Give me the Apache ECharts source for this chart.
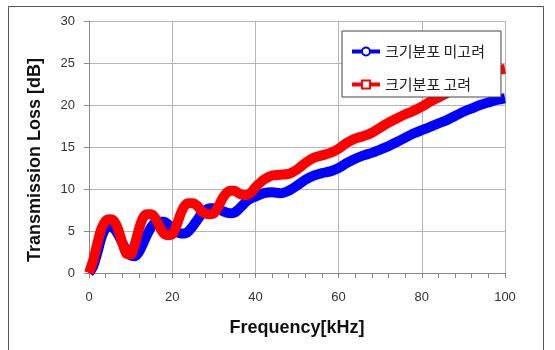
<!DOCTYPE html>
<html><head><meta charset="utf-8">
<script src="https://cdn.jsdelivr.net/npm/echarts@6/dist/echarts.min.js"></script>
<style>html,body{margin:0;padding:0;background:#fff}#c{width:555px;height:350px}</style>
</head><body><div id="c"></div>
<script>
var seriesNames = ['크기분포 미고려', '크기분포 고려'];
var xTicks = [0, 20, 40, 60, 80, 100];
var yTicks = [0, 5, 10, 15, 20, 25, 30];
var freqA = [0,1,2,3,4,5,6,7,8,9,10,11,12,13,14,15,16,17,18,19,20,21,22,23,24,25,26,27,28,29,30,31,32,33,34,35,36,37,38,39,40,42,44,46,48,50,52,54,56,58,60,62,64,66,68,70,72,74,76,78,80,82,84,86,88,90,92,94,96,98,100];
var tlBlue = [0,0.8,2.4,4.2,5.3,5.6,5.3,4.6,3.6,2.7,2.1,2.0,2.5,3.5,4.6,5.5,6.0,6.1,6.1,5.8,5.3,4.9,4.7,4.7,5.0,5.6,6.3,7.0,7.5,7.7,7.7,7.6,7.4,7.2,7.1,7.2,7.6,8.1,8.6,8.9,9.1,9.5,9.6,9.5,9.8,10.4,11.1,11.6,11.9,12.1,12.5,13.1,13.6,14.0,14.3,14.7,15.1,15.6,16.1,16.6,17.0,17.4,17.8,18.2,18.7,19.2,19.6,20.0,20.3,20.6,20.8];
var tlRed = [0,1.5,3.5,5.3,6.2,6.4,6.2,5.2,3.6,2.3,2.2,3.4,5.2,6.6,7.0,7.0,6.5,5.5,4.7,4.5,4.6,5.6,7.0,8.0,8.3,8.3,8.0,7.4,7.1,7.0,7.1,7.8,8.8,9.5,9.8,9.8,9.5,9.3,9.3,9.6,10.2,11.1,11.6,11.7,11.8,12.3,13.1,13.7,14.0,14.3,14.8,15.5,16.0,16.3,16.7,17.3,17.9,18.4,18.9,19.3,19.8,20.4,20.9,21.4,21.9,22.4,22.9,23.3,23.7,24.1,24.3];

function pairs(xs, ys){ return xs.map(function(x,i){return [x, ys[i]];}); }

var chart = echarts.init(document.getElementById('c'), null, {renderer:'canvas'});
chart.setOption({
  animation: false,
  backgroundColor: '#fff',
  graphic: [{type:'rect', shape:{x:8.5, y:6.5, width:535, height:360}, style:{fill:'none', stroke:'#555', lineWidth:1}, z:-1}],
  grid: {left: 89, right: 50, top: 21, bottom: 77},
  legend: {
    orient: 'vertical', left: 342, top: 31,
    padding: [13, 16, 5, 8],
    backgroundColor: '#fff', borderColor: '#444', borderWidth: 1,
    itemWidth: 28, itemHeight: 10, itemGap: 18,
    lineStyle: {width: 4},
    textStyle: {fontFamily: '"Noto Sans CJK KR", sans-serif', fontSize: 15, color: '#222'},
    data: seriesNames
  },
  xAxis: {
    type: 'value', min: xTicks[0], max: xTicks[xTicks.length-1], interval: 20,
    name: 'Frequency[kHz]', nameLocation: 'middle', nameGap: 46,
    nameTextStyle: {fontFamily: 'Liberation Sans, Arial, sans-serif', fontWeight: 'bold', fontSize: 18, color: '#111'},
    axisLine: {lineStyle: {color: '#888'}},
    axisTick: {show: true, length: 5, lineStyle: {color: '#888'}},
    minorTick: {show: true, splitNumber: 5, length: 5, lineStyle: {color: '#888'}},
    axisLabel: {margin: 18, fontSize: 13, color: '#333', fontFamily: 'Liberation Sans, Arial, sans-serif'},
    splitLine: {show: true, lineStyle: {color: '#b5b5b5'}}
  },
  yAxis: {
    type: 'value', min: yTicks[0], max: yTicks[yTicks.length-1], interval: 5,
    name: 'Transmission Loss [dB]', nameLocation: 'middle', nameGap: 45,
    nameTextStyle: {fontFamily: 'Liberation Sans, Arial, sans-serif', fontWeight: 'bold', fontSize: 18, color: '#111', padding: [0, 26, 0, 0]},
    axisLine: {show: true, lineStyle: {color: '#888'}},
    axisTick: {show: true, length: 5, lineStyle: {color: '#888'}},
    axisLabel: {margin: 14, fontSize: 13, color: '#333', fontFamily: 'Liberation Sans, Arial, sans-serif'},
    splitLine: {show: true, lineStyle: {color: '#b5b5b5'}}
  },
  series: [
    {name: seriesNames[0], type: 'line', data: pairs(freqA, tlBlue), smooth: 0.3,
     symbol: 'emptyCircle', symbolSize: 9, showSymbol: false,
     lineStyle: {color: '#0000ff', width: 10}, itemStyle: {color: '#0000ff', borderWidth: 1}, z: 2},
    {name: seriesNames[1], type: 'line', data: pairs(freqA, tlRed), smooth: 0.3,
     symbol: 'emptyRect', symbolSize: 9, showSymbol: false,
     lineStyle: {color: '#ff0000', width: 10}, itemStyle: {color: '#ff0000', borderWidth: 1}, z: 3}
  ]
});
</script></body></html>
